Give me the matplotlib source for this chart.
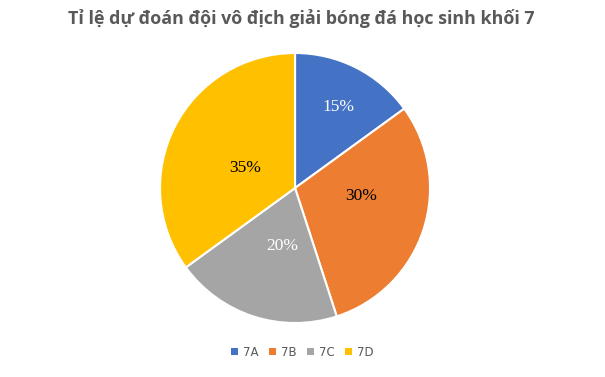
import numpy as np
import matplotlib
matplotlib.use('Agg')
import matplotlib.pyplot as plt

# Dữ liệu dự đoán đội vô địch
teams = ["7A", "7B", "7C", "7D"]
shares = [15, 30, 20, 35]
colors = ["#4472C4", "#ED7D31", "#A5A5A5", "#FFC000"]
label_colors = ["white", "black", "white", "black"]

TITLE = "Tỉ lệ dự đoán đội vô địch giải bóng đá học sinh khối 7"

fig = plt.figure(figsize=(6.05, 3.77), dpi=100)
ax = fig.add_axes([0.4876 - 0.2231, 0.5013 - 0.3581, 0.4463, 0.7162])

wedges, texts, autotexts = ax.pie(
    shares, colors=colors, startangle=90, counterclock=False,
    autopct=lambda p: f"{p:.0f}%", pctdistance=0.55,
    wedgeprops=dict(edgecolor="white", linewidth=1.5),
    textprops=dict(family="Liberation Serif", fontsize=12.5),
)
ax.set_xlim(-1, 1)
ax.set_ylim(-1, 1)
ax.set_aspect("equal")

# vị trí nhãn phần trăm kiểu Excel (best fit)
label_r = [0.68, 0.49, 0.44, 0.40]
label_shift = [-1, 11, 6, 5]  # độ lệch góc
for w, t, c, r, s in zip(wedges, autotexts, label_colors, label_r, label_shift):
    ang = np.deg2rad((w.theta1 + w.theta2) / 2 + s)
    t.set_position((r * np.cos(ang), r * np.sin(ang)))
    t.set_color(c)

fig.text(0.4975, 0.950, TITLE, ha="center", va="center", fontsize=12.9,
         fontweight="bold", color="#595959", family="Open Sans")

# ô màu vuông nhỏ trong chú thích
handles = [plt.Rectangle((0, 0), 1, 1, facecolor=c, edgecolor="none")
           for c in colors]
fig.legend(handles, teams, loc="center", bbox_to_anchor=(0.500, 0.066),
           ncol=4, frameon=False, fontsize=8.5, handlelength=0.6,
           handleheight=0.6, handletextpad=0.4, columnspacing=0.9,
           labelcolor="#595959")

fig.savefig("out.png", dpi=100)
